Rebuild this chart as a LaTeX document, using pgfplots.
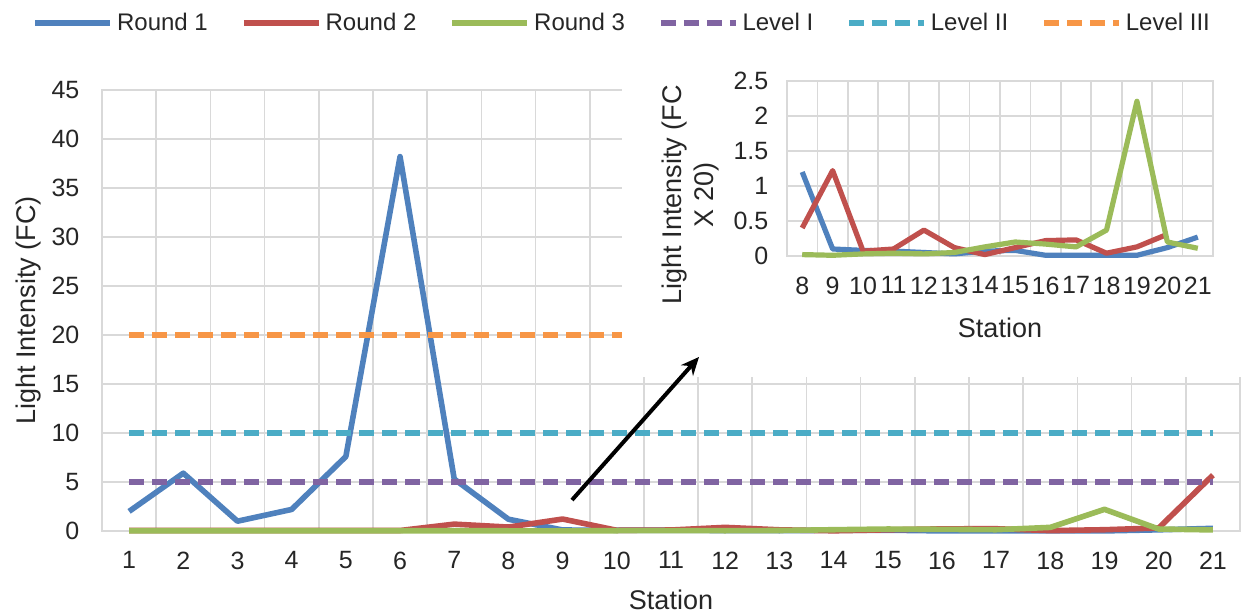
\documentclass[border=0pt]{standalone}
\usepackage{fontspec}
\setmainfont{Liberation Sans}
\usepackage{pgfplots}
\pgfplotsset{compat=1.18}
\usepackage{pgfplotstable}
\usetikzlibrary{arrows.meta}

\definecolor{cB}{HTML}{4F81BD}
\definecolor{cR}{HTML}{C0504D}
\definecolor{cG}{HTML}{9BBB59}
\definecolor{cP}{HTML}{8064A2}
\definecolor{cT}{HTML}{4BACC6}
\definecolor{cO}{HTML}{F79646}
\definecolor{gridc}{HTML}{D9D9D9}
\definecolor{txt}{HTML}{262626}

\pgfplotstableread{
x   r1    r2    r3
1   2.0   0.05  0.03
2   5.9   0.05  0.03
3   1.0   0.05  0.03
4   2.2   0.05  0.03
5   7.6   0.05  0.03
6   38.2  0.05  0.03
7   5.3   0.70  0.03
8   1.2   0.40  0.02
9   0.10  1.22  0.01
10  0.08  0.07  0.03
11  0.07  0.10  0.04
12  0.05  0.37  0.03
13  0.03  0.12  0.05
14  0.07  0.02  0.13
15  0.08  0.12  0.20
16  0.01  0.22  0.17
17  0.01  0.23  0.13
18  0.01  0.04  0.37
19  0.01  0.13  2.21
20  0.12  0.31  0.20
21  0.27  5.70  0.11
}\maindata

\pgfplotsset{
  every axis/.append style={
    scale only axis, clip=false,
    minor xtick={0.5,1.5,...,21.5},
    xminorgrids, ymajorgrids,
    grid style={draw=gridc, line width=0.8pt},
    minor grid style={draw=gridc, line width=0.8pt},
    axis line style={draw=gridc, line width=0.8pt},
    major tick length=0pt, minor tick length=0pt,
    tick style={draw=none},
    ticklabel style={font=\fontsize{12.5}{15}\selectfont, text=txt},
    /pgf/number format/assume math mode=true,
    label style={font=\fontsize{13.5}{16}\selectfont, text=txt},
  },
}

\begin{document}
\begin{tikzpicture}
\useasboundingbox (0,0) rectangle (621.5pt,307.5pt);
\begin{axis}[
  at={(51pt,42pt)}, anchor=south west,
  width=569pt, height=220.5pt,
  xmin=0.5, xmax=21.5, ymin=0, ymax=45,
  xtick={1,...,21}, ytick={0,5,...,45},
  yticklabel style={xshift=-7.8pt},
  xticklabel style={yshift=-6.8pt},
  xlabel={Station}, ylabel={Light Intensity (FC)},
  xlabel style={at={(axis description cs:0.5,-0.1565)}, anchor=center},
  ylabel style={at={(axis description cs:-0.065,0.5)}, anchor=center},
  legend style={at={(axis description cs:0.458,1.152)}, anchor=center,
    draw=none, fill=none, font=\fontsize{12}{14}\selectfont, text=txt,
    /tikz/every even column/.append style={column sep=14.6pt}},
  legend columns=6,
  legend image code/.code={\draw[#1] (0pt,0pt) -- (37.5pt,0pt);},
]
\addplot[cB, line width=2.8pt, line join=round] table[x=x,y=r1]{\maindata};
\addplot[cR, line width=2.8pt, line join=round] table[x=x,y=r2]{\maindata};
\addplot[cG, line width=2.8pt, line join=round] table[x=x,y=r3]{\maindata};
\addplot[cP, line width=2.7pt, dash pattern=on 7.5pt off 4pt] coordinates {(1,5) (21,5)};
\addplot[cT, line width=2.7pt, dash pattern=on 7.5pt off 4pt] coordinates {(1,10) (21,10)};
\addplot[cO, line width=2.7pt, dash pattern=on 7.5pt off 4pt] coordinates {(1,20) (21,20)};
\legend{Round 1, Round 2, Round 3, Level I, Level II, Level III}
\end{axis}

\fill[white] (311pt,119pt) rectangle (621.5pt,284pt);
\draw[-{Stealth[length=9pt,width=8pt]}, line width=2pt] (286pt,57.5pt) -- (349.5pt,129pt);

\begin{axis}[
  at={(393.5pt,179.5pt)}, anchor=south west,
  width=213pt, height=87.5pt,
  xmin=7.5, xmax=21.5, ymin=0, ymax=2.5,
  xtick={8,...,21}, ytick={0,0.5,1,1.5,2,2.5},
  minor xtick={7.5,8.5,...,21.5},
  yticklabel style={xshift=-5.8pt},
  xticklabel style={yshift=-6.8pt},
  xlabel={Station},
  ylabel={Light Intensity (FC\\X 20)},
  xlabel style={at={(axis description cs:0.5,-0.411)}, anchor=center},
  ylabel style={at={(axis description cs:-0.2254,0.35)}, anchor=center, align=center},
]
\addplot[cB, line width=2.6pt, line join=round, restrict x to domain=8:21] table[x=x,y=r1]{\maindata};
\addplot[cR, line width=2.6pt, line join=round, restrict x to domain=8:20] table[x=x,y=r2]{\maindata};
\addplot[cG, line width=2.6pt, line join=round, restrict x to domain=8:21] table[x=x,y=r3]{\maindata};
\end{axis}
\end{tikzpicture}
\end{document}
